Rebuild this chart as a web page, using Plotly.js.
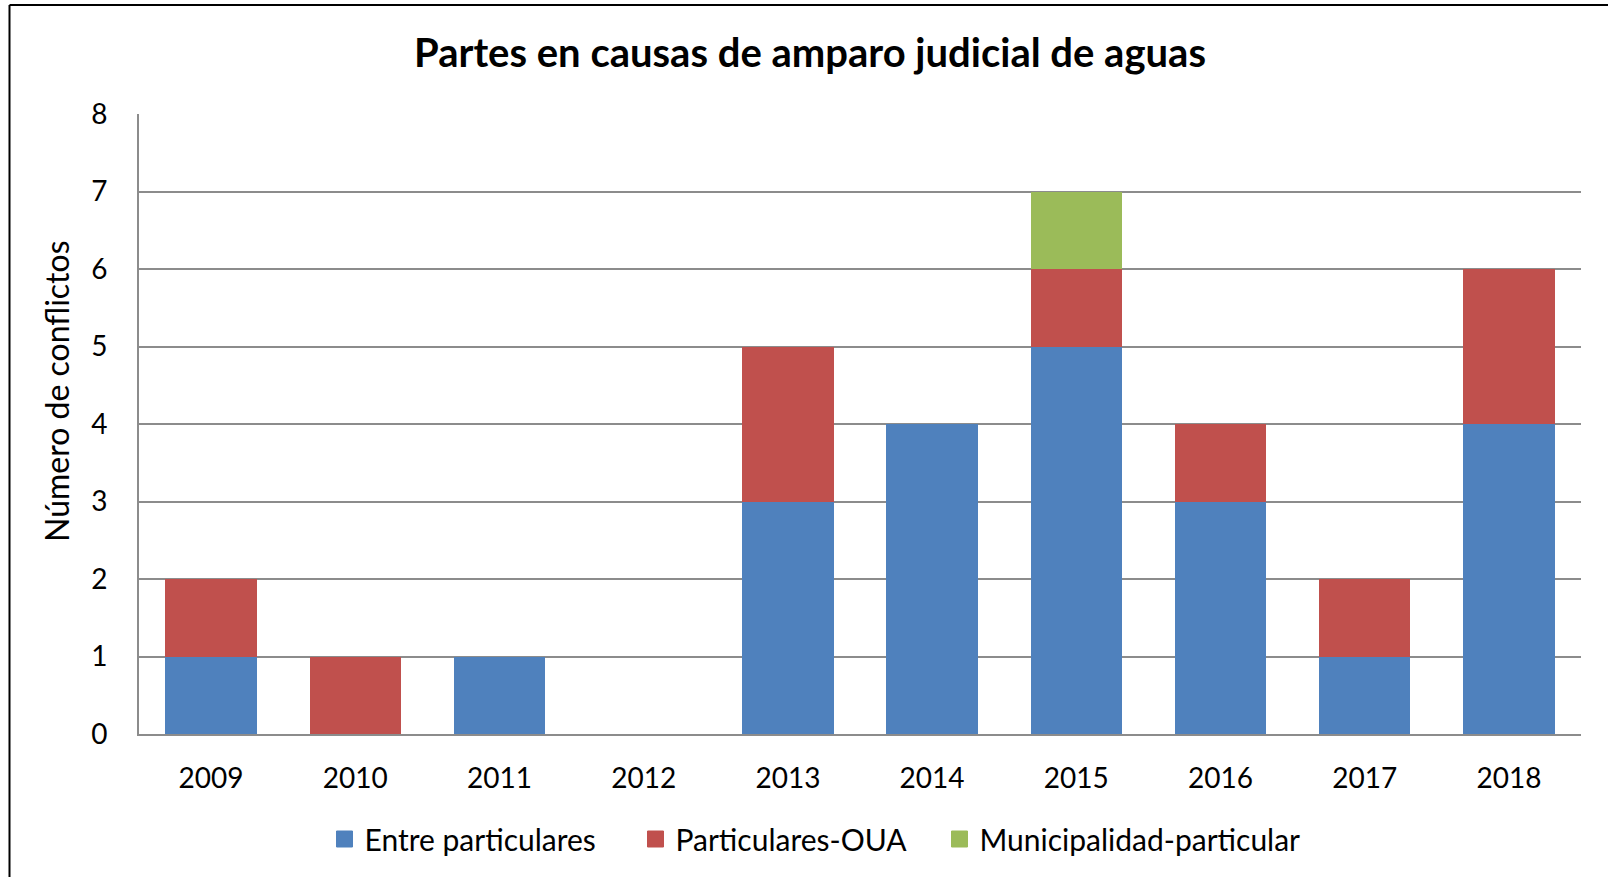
<!DOCTYPE html>
<html>
<head>
<meta charset="utf-8">
<script src="https://cdn.plot.ly/plotly-3.0.1.min.js"></script>
<style>
html,body{margin:0;padding:0;background:#fff;}
#chart{width:1608px;height:877px;}
</style>
</head>
<body>
<div id="chart"></div>
<script>
const years = ["2009","2010","2011","2012","2013","2014","2015","2016","2017","2018"];
const entreParticulares = [1, 0, 1, 0, 3, 4, 5, 3, 1, 4];
const particularesOUA = [1, 1, 0, 0, 2, 0, 1, 1, 1, 2];
const municipalidadParticular = [0, 0, 0, 0, 0, 0, 1, 0, 0, 0];
const seriesNames = ["Entre particulares", "Particulares-OUA", "Municipalidad-particular"];
const yTicks = [0,1,2,3,4,5,6,7,8];

const colors = ["#4F81BD", "#C0504D", "#9BBB59"];
const legendWidths = [266, 259, 345];
const FONT = "Lato, 'Open Sans', sans-serif";

const seriesVals = [entreParticulares, particularesOUA, municipalidadParticular];
const bars = seriesVals.map((vals, i) => ({
  type: "bar",
  x: years,
  y: vals,
  name: seriesNames[i],
  marker: {color: colors[i], line: {width: 0}},
  showlegend: false,
  legendgroup: "g" + i
}));
// legend-only entries with larger square swatches
const legendItems = seriesNames.map((n, i) => ({
  type: "scatter",
  mode: "markers",
  x: [years[0]],
  y: [null],
  name: n,
  legendgroup: "g" + i,
  legendwidth: legendWidths[i],
  marker: {symbol: "square", size: 16, color: colors[i], line: {width: 1, color: colors[i]}},
  showlegend: true
}));

const W = 1608, H = 877;
const L = 139, R = 27, T = 114, B = 143;
const pw = W - L - R, ph = H - T - B;
const px = v => (v - L) / pw;
const py = v => (H - B - v) / ph;

const layout = {
  width: W, height: H,
  barmode: "stack",
  bargap: 0.365,
  paper_bgcolor: "#fff",
  plot_bgcolor: "#fff",
  margin: {l: L, r: R, t: T, b: B, pad: 0},
  font: {family: FONT, color: "#000", size: 28},
  title: {
    text: "<b>Partes en causas de amparo judicial de aguas</b>",
    font: {family: FONT, size: 40, color: "#000"},
    x: px(810), xref: "paper", xanchor: "center",
    y: 1 - 53 / H, yref: "container", yanchor: "middle"
  },
  xaxis: {
    type: "category",
    categoryarray: years,
    range: [-0.5, years.length - 0.5],
    autorange: false,
    tickvals: years,
    ticktext: years,
    showgrid: false,
    showline: true, linecolor: "#8c8c8c", linewidth: 2,
    ticks: "", ticklen: 0,
    tickfont: {family: FONT, size: 28, color: "#000"},
    ticklabelstandoff: 18,
    automargin: false
  },
  yaxis: {
    range: [0, 8],
    autorange: false,
    tickvals: yTicks,
    showgrid: true, gridcolor: "#8c8c8c", gridwidth: 2,
    showline: true, linecolor: "#8c8c8c", linewidth: 2,
    zeroline: false,
    ticks: "", ticklen: 0,
    tickfont: {family: FONT, size: 28, color: "#000"},
    ticklabelstandoff: 24,
    automargin: false
  },
  annotations: [{
    text: "Número de conflictos",
    textangle: -90,
    xref: "paper", yref: "paper",
    x: px(56), y: py(391),
    xanchor: "center", yanchor: "middle",
    showarrow: false,
    font: {family: FONT, size: 32, color: "#000"}
  }],
  legend: {
    orientation: "h",
    x: px(827), xanchor: "center",
    y: py(839), yanchor: "middle",
    font: {family: FONT, size: 30, color: "#000"},
    traceorder: "normal",
    bgcolor: "rgba(0,0,0,0)"
  },
  shapes: [
    {type: "line", xref: "paper", yref: "paper", x0: px(9.5), x1: px(9.5), y0: py(5), y1: py(H + 5), line: {color: "#000", width: 2}},
    {type: "line", xref: "paper", yref: "paper", x0: px(9.5), x1: px(W + 5), y0: py(5), y1: py(5), line: {color: "#000", width: 2}}
  ],
  showlegend: true
};

Plotly.newPlot("chart", bars.concat(legendItems), layout, {displayModeBar: false, staticPlot: true});
</script>
</body>
</html>
